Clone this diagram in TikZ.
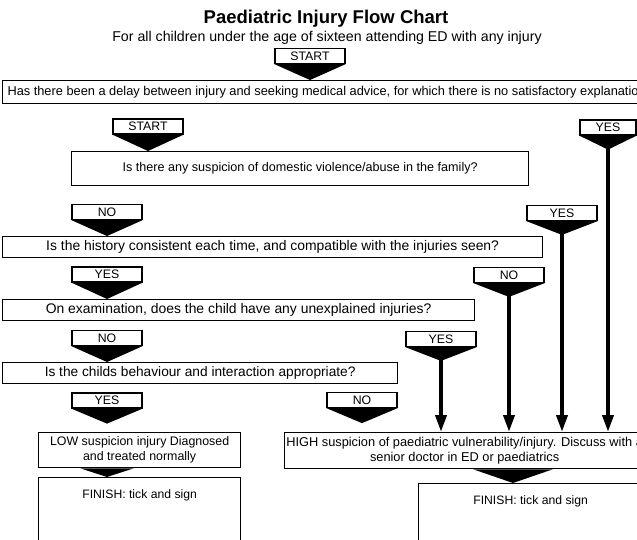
\documentclass[tikz,border=0pt]{standalone}
\usepackage{fontspec}
\setmainfont{Liberation Sans}
\usetikzlibrary{arrows.meta,calc}
\newcommand{\fs}[1]{\fontsize{#1}{#1}\selectfont}
\begin{document}
\begin{tikzpicture}[x=1pt,y=-1pt,
  qbox/.style={draw, line width=1.25pt, fill=white, inner sep=0pt, align=center, anchor=north west},
  tagbox/.style={draw, line width=1.25pt, fill=white, minimum width=70pt, minimum height=15pt, inner sep=0pt, font=\fs{12.3}},
  stemline/.style={line width=3.8pt, -{Triangle[length=17pt,width=11pt]}},
  tipfill/.style={fill=black}]
\useasboundingbox (0,0) rectangle (637,540);
\clip (0,0) rectangle (637,540);
% titles
\node[font=\bfseries\fs{18.5}] (title) at (326,19) {Paediatric Injury Flow Chart};
\node[font=\fs{14.2}] (sub) at (327,38) {For all children under the age of sixteen attending ED with any injury};
% question boxes
\node[qbox, font=\fs{12.8}, minimum width=648pt, minimum height=23pt] (q1) at (2,80) {Has there been a delay between injury and seeking medical advice, for which there is no satisfactory explanation};
\node[qbox, font=\fs{12.6}, minimum width=457pt, minimum height=34pt] (q2) at (71,151) {Is there any suspicion of domestic violence/abuse in the family?};
\node[qbox, font=\fs{13.9}, minimum width=540pt, minimum height=21pt] (q3) at (2,236) {Is the history consistent each time, and compatible with the injuries seen?};
\node[qbox, font=\fs{13.9}, minimum width=472pt, minimum height=21pt] (q4) at (2,299) {On examination, does the child have any unexplained injuries?};
\node[qbox, font=\fs{13.7}, minimum width=395pt, minimum height=21pt] (q5) at (2,362) {Is the childs behaviour and interaction appropriate?};
\node[qbox, font=\fontsize{12.4}{15}\selectfont, minimum width=202pt, minimum height=35pt] (low) at (38,432) {LOW suspicion injury Diagnosed\\and treated normally};
\node[qbox, font=\fontsize{12.8}{15}\selectfont, minimum width=360pt, minimum height=36pt] (high) at (284,432) {HIGH suspicion of paediatric vulnerability/injury. Discuss with a\\senior doctor in ED or paediatrics};
\node[qbox, minimum width=202pt, minimum height=80pt] (finL) at (38,477) {};
\node[qbox, minimum width=224pt, minimum height=80pt] (finR) at (418,483) {};
\node[font=\fs{12.2}, anchor=north] (finLt) at ($(finL.north)+(0,9)$) {FINISH: tick and sign};
\node[font=\fs{12.2}, anchor=north] (finRt) at ($(finR.north)+(0,9)$) {FINISH: tick and sign};
% left-hand tags
\node[tagbox] (t0) at (310,56) {START};
\node[tagbox] (t1) at (148,126.5) {START};
\node[tagbox] (t2) at (107,212) {NO};
\node[tagbox] (t3) at (107,274.5) {YES};
\node[tagbox] (t4) at (107,338) {NO};
\node[tagbox] (t5) at (107,400.5) {YES};
\node[tagbox] (t6) at (362,400) {NO};
\coordinate (p0) at (t0.south |- q1.north);
\coordinate (p1) at (t1.south |- q2.north);
\coordinate (p2) at (t2.south |- q3.north);
\coordinate (p3) at (t3.south |- q4.north);
\coordinate (p4) at (t4.south |- q5.north);
\coordinate (p5) at ($(t5.south)+(0,15)$);
\coordinate (p6) at ($(t6.south)+(0,15)$);
\foreach \t/\p in {t0/p0,t1/p1,t2/p2,t3/p3,t4/p4,t5/p5,t6/p6}
  \fill[tipfill] (\t.south west) -- (\t.south east) -- (\p) -- cycle;
% right-hand tags with stems
\node[tagbox, minimum width=56pt] (r1) at (608,127.5) {YES};
\node[tagbox] (r2) at (562,213) {YES};
\node[tagbox] (r3) at (509,275) {NO};
\node[tagbox] (r4) at (441,339) {YES};
\foreach \r in {r1,r2,r3,r4}{
  \fill[tipfill] (\r.south west) -- (\r.south east) -- ($(\r.south)+(2,13)$) -- ($(\r.south)+(-2,13)$) -- cycle;
  \coordinate (\r s) at ($(\r.south)+(0,11)$);
  \draw[stemline] (\r s) -- (\r s |- high.north);
}
% box to finish connectors
\coordinate (lowtip) at ($(finL.north west)+(69,0)$);
\fill[tipfill] ($(low.south west)+(42,0)$) -- ($(low.south west)+(96,0)$) -- (lowtip) -- cycle;
\coordinate (hightip) at ($(finR.north west)+(95,0)$);
\fill[tipfill] ($(high.south west)+(189,0)$) -- ($(high.south west)+(269,0)$) -- (hightip) -- cycle;
\end{tikzpicture}
\end{document}
